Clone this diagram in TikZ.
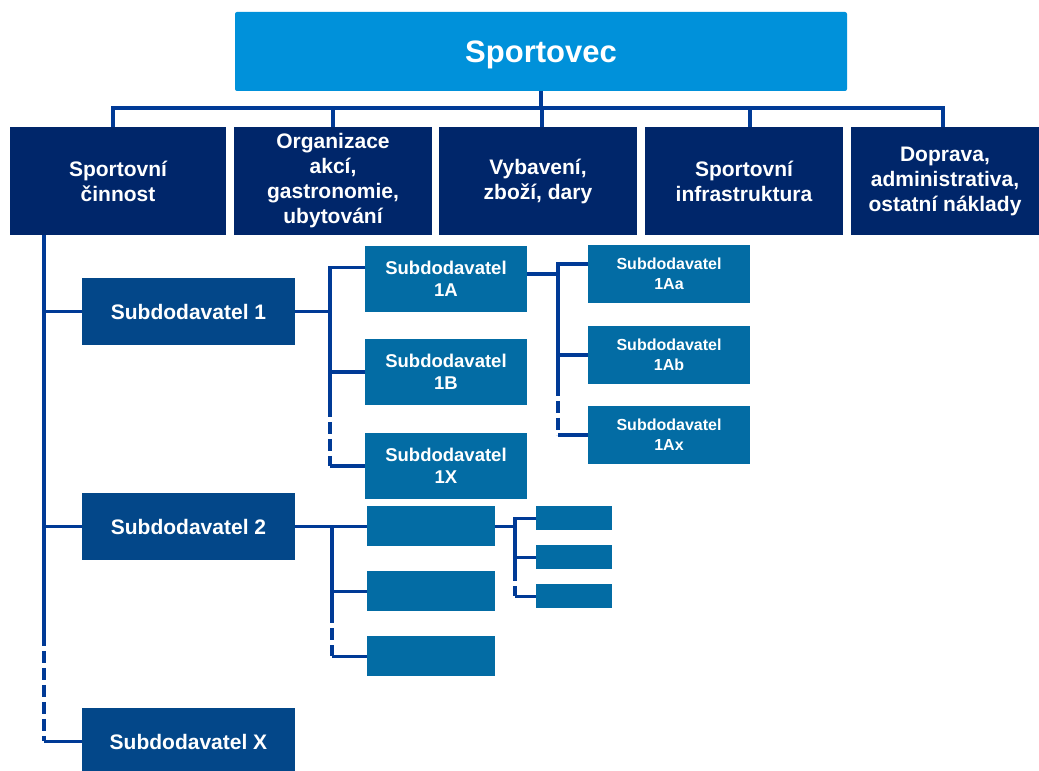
\documentclass[tikz,border=0pt]{standalone}
\usepackage{fontspec}
\setmainfont{Liberation Sans}
\usepackage{xcolor}
\usepackage{tikz}
\usetikzlibrary{positioning, calc}

\definecolor{topblue}{HTML}{0091DA}
\definecolor{catnavy}{HTML}{00266A}
\definecolor{subnavy}{HTML}{034789}
\definecolor{subblue}{HTML}{036CA4}
\definecolor{linkblue}{HTML}{003A96}

\begin{document}
\begin{tikzpicture}[x=1pt, y=1pt,
    box/.style={rectangle, fill=#1, text=white, inner sep=0pt, outer sep=0pt,
                align=center, font=\bfseries},
    topbox/.style={box=topblue, rounded corners=2pt, minimum width=612, minimum height=79,
                   font=\fontsize{31}{37}\selectfont\bfseries},
    catbox/.style={box=catnavy, minimum width=#1, minimum height=108,
                   font=\fontsize{21}{25}\selectfont\bfseries},
    catbox/.default=198,
    subbox/.style={box=subnavy, minimum width=213, minimum height=67,
                   font=\fontsize{21}{25}\selectfont\bfseries},
    midbox/.style={box=subblue, minimum width=162, minimum height=66,
                   font=\fontsize{18.5}{22}\selectfont\bfseries},
    leafbox/.style={box=subblue, minimum width=162, minimum height=58,
                    font=\fontsize{16}{20}\selectfont\bfseries},
    smallbox/.style={box=subblue, minimum width=128, minimum height=40},
    tinybox/.style={box=subblue, minimum width=76, minimum height=24},
    link/.style={draw=linkblue, line width=3.6pt},
    dlink/.style={link, dash pattern=on 12pt off 5pt},
  ]
    \useasboundingbox (0,0) rectangle (1039,771);

    % Top
    \node[topbox, text depth=0pt] (top) at (541,719.5) {Sportovec};

    % Categories
    \node[catbox=216] (c1) at (118,590) {Sportovní\\činnost};
    \node[catbox, right=8 of c1] (c2) {Organizace\\akcí,\\gastronomie,\\ubytování};
    \node[catbox, right=7 of c2] (c3) {Vybavení,\\zboží, dary};
    \node[catbox, right=8 of c3] (c4) {Sportovní\\infrastruktura};
    \node[catbox=188, right=8 of c4] (c5) {Doprava,\\administrativa,\\ostatní náklady};

    % Subcontractors, level 1
    \node[subbox, anchor=north west] (s1) at ($(c1.south west)+(72,-43)$) {Subdodavatel 1};
    \node[subbox, below=148 of s1] (s2) {Subdodavatel 2};
    \node[subbox, below=148 of s2] (sx) {Subdodavatel X};

    % Level 2 under Subdodavatel 1
    \node[midbox, anchor=north west] (s1a) at ($(s1.north east)+(70,32)$) {Subdodavatel\\1A};
    \node[midbox, below=27 of s1a] (s1b) {Subdodavatel\\1B};
    \node[midbox, below=28 of s1b] (s1x) {Subdodavatel\\1X};

    % Level 3 under 1A
    \node[leafbox, anchor=north west] (s1aa) at ($(s1a.north east)+(61,1)$) {Subdodavatel\\1Aa};
    \node[leafbox, below=23 of s1aa] (s1ab) {Subdodavatel\\1Ab};
    \node[leafbox, below=22 of s1ab] (s1ax) {Subdodavatel\\1Ax};

    % Level 2 and 3 under Subdodavatel 2 (empty)
    \node[smallbox, right=72 of s2] (s2a) {};
    \node[smallbox, below=25 of s2a] (s2b) {};
    \node[smallbox, below=25 of s2b] (s2c) {};
    \node[tinybox, anchor=north west] (s2aa) at ($(s2a.north east)+(41,0)$) {};
    \node[tinybox, below=15 of s2aa] (s2ab) {};
    \node[tinybox, below=15 of s2ab] (s2ac) {};

    % Links: top to categories
    \draw[link] (top.south) -- ++(0,-17) coordinate (bus);
    \draw[link] ($(c1.north)+(-5,0)$) |- (bus) -| ($(c5.north)+(-2,0)$);
    \foreach \n/\dx in {c2/0,c3/4,c4/6}
      \draw[link] ($(\n.north)+(\dx,0)$) -- ($(\n.north |- bus)+(\dx,0)$);

    % Links: Sportovni cinnost trunk
    \coordinate (t0) at ($(c1.south west)+(34,0)$);
    \coordinate (tmid) at ($(s2.south)!0.5!(sx.north)$);
    \draw[link] (t0) |- (s1.west);
    \draw[link] (t0) -- (t0 |- tmid);
    \draw[link] (t0 |- s2.west) -- (s2.west);
    \draw[dlink] (t0 |- tmid) -- (t0 |- sx.west);
    \draw[link] (t0 |- sx.west) -- (sx.west);

    % Links: Subdodavatel 1
    \draw[link] (s1.east) -- ++(35,0) coordinate (b1);
    \draw[link] (s1a.172) -| (b1) |- (s1b.west);
    \draw[link] (b1 |- s1b.west) -- (b1 |- s1b.south);
    \draw[dlink] (b1 |- s1b.south) -- (b1 |- s1x.west);
    \draw[link] (b1 |- s1x.west) -- (s1x.west);

    % Links: 1A
    \draw[link] (s1a.east |- s1aa) -- ++(31,0) coordinate (b1a);
    \draw[link] (s1aa.173) -| (b1a) |- (s1ab.west);
    \draw[link] (b1a |- s1ab.west) -- (b1a |- s1ab.south);
    \draw[dlink] (b1a |- s1ab.south) -- (b1a |- s1ax.west);
    \draw[link] (b1a |- s1ax.west) -- (s1ax.west);

    % Links: Subdodavatel 2
    \draw[link] (s2) -- (s2a);
    \coordinate (b2) at ($(s2.east)+(37,0)$);
    \draw[link] (b2) |- (s2b.west);
    \draw[link] (b2 |- s2b.west) -- (b2 |- s2b.south);
    \draw[dlink] (b2 |- s2b.south) -- (b2 |- s2c.west);
    \draw[link] (b2 |- s2c.west) -- (s2c.west);

    % Links: 2A
    \draw[link] (s2a.east) -- ++(20,0) coordinate (b2a);
    \draw[link] (s2aa.west) -| (b2a) |- (s2ab.west);
    \draw[link] (b2a |- s2ab.west) -- (b2a |- s2ab.south);
    \draw[dlink] (b2a |- s2ab.south) -- (b2a |- s2ac.west);
    \draw[link] (b2a |- s2ac.west) -- (s2ac.west);

  \end{tikzpicture}
\end{document}
